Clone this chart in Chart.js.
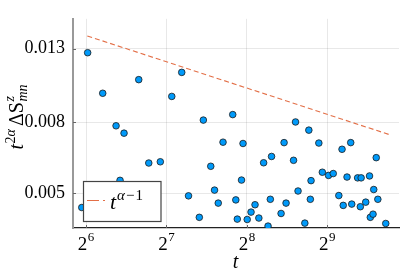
<!DOCTYPE html>
<html>
<head>
<meta charset="utf-8">
<script src="https://cdn.jsdelivr.net/npm/chart.js@4/dist/chart.umd.min.js"></script>
<style>
  body { margin: 0; background: #fff; }
  canvas { display: block; }
</style>
</head>
<body>
<canvas id="chart" width="407" height="271"></canvas>
<script>
// values
const tValues = [64.9, 73.9, 82.9, 88.8, 85.8, 61.7, 100.8, 109.9, 121.4, 134.0, 146.0, 154.8,
    169.9, 175.9, 187.5, 193.7, 200.0, 208.4, 226.6, 232.7, 235.7, 244.4, 247.6, 256.7,
    265.3, 274.6, 283.8, 295.7, 307.2, 313.3, 316.6, 343.7, 352.7, 358.8, 382.7, 389.3,
    397.8, 421.8, 436.6, 442.3, 445.0, 475.9, 490.5, 517.4, 538.8, 565.4, 581.2, 587.2,
    606.8, 626.4, 631.9, 664.8, 685.2, 680.5, 712.9, 736.6, 741.7, 759.2, 763.8, 780.4,
    791.3, 847.2];
const sValues = [0.01265, 0.00968, 0.00781, 0.00744, 0.00545, 0.004556, 0.01059, 0.00611, 0.00616, 0.00948, 0.01111, 0.00492,
    0.00427, 0.00811, 0.00598, 0.00511, 0.00469, 0.00701, 0.00841, 0.00479, 0.00422, 0.00546, 0.00695, 0.00421,
    0.00442, 0.00464, 0.00425, 0.00612, 0.00403, 0.00481, 0.00638, 0.00438, 0.00699, 0.00469, 0.00622, 0.00801,
    0.00508, 0.00411, 0.00759, 0.00481, 0.00544, 0.00697, 0.00575, 0.00563, 0.0057, 0.00493, 0.00669, 0.00462,
    0.00557, 0.00699, 0.00466, 0.00554, 0.00554, 0.00458, 0.00472, 0.00561, 0.00427, 0.00436, 0.00513, 0.00633,
    0.00481, 0.0041];

// reference line t^(alpha-1), end points
const lineT = [64.7, 873.7];
const lineS = [0.01413, 0.00737];

const xTicks = [64, 128, 256, 512];
const xTickExp = ['6', '7', '8', '9'];
const yTicks = [0.005, 0.008, 0.013];
const yTickLabels = ['0.005', '0.008', '0.013'];

const SERIF = '"Liberation Serif", "DejaVu Serif", serif';
const font = (style, size) => style + ' ' + size + 'px ' + SERIF;

// draw a row of text pieces: [text, style, size, dy, noAdvance, extraGap]
function drawPieces(c, pieces, x0, y0) {
    let x = x0;
    pieces.forEach(p => {
        c.font = font(p[1], p[2]);
        c.fillText(p[0], x, y0 + p[3]);
        if (!p[4]) x += c.measureText(p[0]).width + (p[5] || 0);
    });
}

function piecesWidth(c, pieces) {
    let w = 0;
    pieces.forEach(p => {
        c.font = font(p[1], p[2]);
        if (!p[4]) w += c.measureText(p[0]).width + (p[5] || 0);
    });
    return w;
}

const customText = {
    id: 'customText',
    afterDraw(chart) {
        const c = chart.ctx;
        const xs = chart.scales.x;
        const ys = chart.scales.y;
        const area = chart.chartArea;
        c.save();

        // inward tick marks
        c.strokeStyle = '#666';
        c.lineWidth = 1;
        xTicks.forEach(v => {
            const px = Math.round(xs.getPixelForValue(v)) + 0.5;
            c.beginPath(); c.moveTo(px, area.bottom); c.lineTo(px, area.bottom - 3); c.stroke();
        });
        yTicks.forEach(v => {
            const py = Math.round(ys.getPixelForValue(v)) + 0.5;
            c.beginPath(); c.moveTo(area.left, py); c.lineTo(area.left + 3, py); c.stroke();
        });

        c.fillStyle = '#000';
        c.textAlign = 'left';
        c.textBaseline = 'alphabetic';

        // x tick labels 2^n
        xTicks.forEach((v, i) => {
            const pcs = [['2', 'normal', 19, 0, false, 0.5], [xTickExp[i], 'normal', 13, -9.5]];
            const w = piecesWidth(c, pcs);
            drawPieces(c, pcs, xs.getPixelForValue(v) - w / 2, 250);
        });

        // x title
        const xt = [['t', 'italic', 20, 0]];
        drawPieces(c, xt, 235.5 - piecesWidth(c, xt) / 2, 268);

        // y title  t^{2α} ΔS^z_{mn}
        const yt = [
            ['t', 'italic', 20, 0, false, 0.5],
            ['2', 'normal', 14, -8],
            ['α', 'italic', 14, -8, false, 3],
            ['ΔS', 'normal', 20, 0, false, 0.5],
            ['z', 'italic', 14, -9, true],
            ['mn', 'italic', 14, 4]
        ];
        c.save();
        c.translate(22.5, 117);
        c.rotate(-Math.PI / 2);
        drawPieces(c, yt, -piecesWidth(c, yt) / 2, 0);
        c.restore();

        // legend
        c.fillStyle = '#fff';
        c.fillRect(83.5, 181.5, 77.5, 40);
        c.strokeStyle = '#444';
        c.lineWidth = 1.2;
        c.strokeRect(83.5, 181.5, 77.5, 40);
        c.strokeStyle = '#E36F47';
        c.lineWidth = 1.2;
        c.setLineDash([12, 4]);
        c.beginPath(); c.moveTo(87, 200.5); c.lineTo(105, 200.5); c.stroke();
        c.setLineDash([]);
        c.fillStyle = '#000';
        drawPieces(c, [
            ['t', 'italic', 22, 0, false, 1],
            ['α', 'italic', 15, -9, false, 1],
            ['−', 'normal', 15, -9, false, 1],
            ['1', 'normal', 15, -9]
        ], 110, 209);

        c.restore();
    }
};

new Chart(document.getElementById('chart'), {
    type: 'scatter',
    data: {
        datasets: [{
            data: tValues.map((t, i) => ({ x: t, y: sValues[i] })),
            backgroundColor: '#009AFA',
            borderColor: '#1a1a1a',
            borderWidth: 0.8,
            pointRadius: 3.3,
            pointHoverRadius: 3.3
        }, {
            data: lineT.map((t, i) => ({ x: t, y: lineS[i] })),
            showLine: true,
            borderColor: '#E36F47',
            borderWidth: 1.1,
            borderDash: [5, 3],
            pointRadius: 0
        }]
    },
    options: {
        responsive: false,
        devicePixelRatio: 1,
        animation: false,
        layout: { padding: { left: 0, top: 8, right: 8, bottom: 0 } },
        plugins: { legend: { display: false }, tooltip: { enabled: false } },
        scales: {
            x: {
                type: 'logarithmic',
                min: 57.2,
                max: 949.6,
                afterBuildTicks: s => { s.ticks = xTicks.map(v => ({ value: v })); },
                afterFit: s => { s.height = 43; },
                ticks: { display: false },
                grid: { color: 'rgba(0,0,0,0.09)', drawTicks: false },
                border: { color: '#222', width: 1.2 }
            },
            y: {
                type: 'logarithmic',
                min: 0.00398,
                max: 0.01582,
                afterBuildTicks: s => { s.ticks = yTicks.map(v => ({ value: v })); },
                afterFit: s => { s.width = 73; },
                ticks: {
                    callback: (v, i) => yTickLabels[i],
                    font: { family: SERIF, size: 18 },
                    color: '#000',
                    padding: 8,
                    autoSkip: false
                },
                grid: { color: 'rgba(0,0,0,0.09)', drawTicks: false },
                border: { color: '#999', width: 2 }
            }
        }
    },
    plugins: [customText]
});
</script>
</body>
</html>
